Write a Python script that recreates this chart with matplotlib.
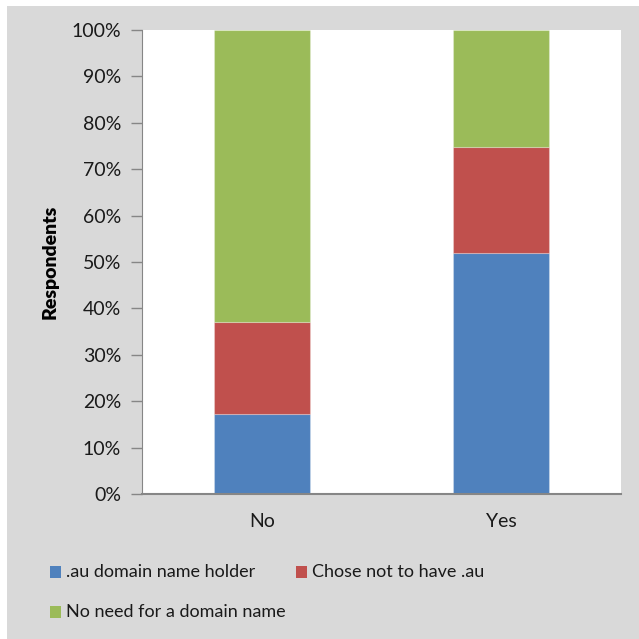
import matplotlib.pyplot as plt
from matplotlib.patches import Rectangle
from matplotlib.ticker import PercentFormatter
import numpy as np

plt.rcParams['font.family'] = ['Lato', 'DejaVu Sans']

categories = ["No", "Yes"]
holder = [17.2, 51.9]
chose_not = [19.9, 22.9]
no_need = [62.9, 25.2]
series_names = [".au domain name holder", "Chose not to have .au", "No need for a domain name"]
colors = ["#4f81bd", "#c0504d", "#9bbb59"]

W, H = 639, 639
fig = plt.figure(figsize=(W / 100, H / 100), dpi=100, facecolor="white")
fig.patches.append(Rectangle((7 / W, 0), 1, 1 - 6 / H, transform=fig.transFigure,
                             facecolor="#d9d9d9", edgecolor="none", zorder=-10))

ax = fig.add_axes([142 / W, 1 - 494 / H, (621 - 142) / W, (494 - 30) / H])
ax.set_facecolor("white")

x = np.arange(len(categories))
bottom = np.zeros(len(categories))
for vals, name, c in zip([holder, chose_not, no_need], series_names, colors):
    ax.bar(x, vals, 0.4, bottom=bottom, color=c, edgecolor=(1, 1, 1, 0.25),
           linewidth=0.8, label=name)
    bottom += vals

ax.set_xlim(-0.5, 1.5)
ax.set_ylim(0, 100)
ax.set_yticks(np.arange(0, 101, 10))
ax.yaxis.set_major_formatter(PercentFormatter(decimals=0))
ax.set_xticks(x)
ax.set_xticklabels(categories)
ax.tick_params(axis="y", length=8, width=1, color="#868686", labelsize=14, pad=7, labelcolor="#1a1a1a")
ax.tick_params(axis="x", length=0, labelsize=14, pad=14, labelcolor="#1a1a1a")
for side in ["top", "right"]:
    ax.spines[side].set_visible(False)
ax.spines["left"].set_color("#868686")
ax.spines["bottom"].set_color("#868686")
ax.spines["bottom"].set_linewidth(1.5)
ax.set_ylabel("Respondents", fontsize=14, fontweight="heavy", labelpad=9)

# legend laid out in rows: two entries on the first line, one on the second
legend_spots = [(50, 572), (296, 572), (50, 612)]
for (px, py), name, c in zip(legend_spots, series_names, colors):
    fig.add_artist(Rectangle((px / W, 1 - (py + 6) / H), 11 / W, 12 / H,
                             transform=fig.transFigure, facecolor=c, edgecolor="none"))
    fig.text((px + 16) / W, 1 - py / H, name, fontsize=13, va="center", ha="left",
             color="#1a1a1a")

fig.savefig("out.png", dpi=100, facecolor=fig.get_facecolor())
